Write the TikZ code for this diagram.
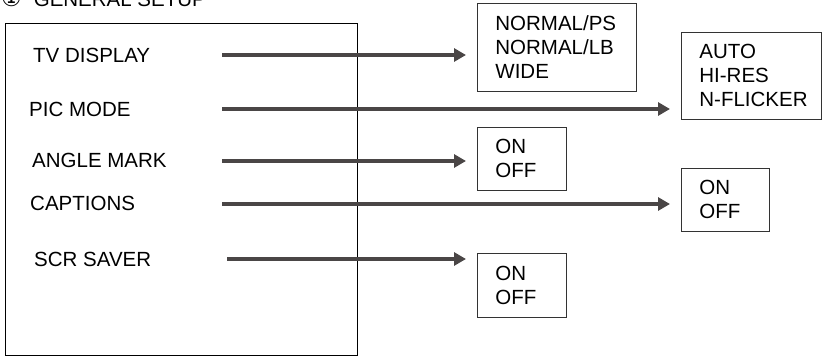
\documentclass[tikz,border=0pt]{standalone}
\usepackage{fontspec}
\setmainfont{Liberation Sans}
\newfontfamily\symfont{DejaVu Sans}
\usetikzlibrary{arrows.meta, positioning}
\definecolor{arrowgray}{HTML}{4A4646}
\definecolor{boxgray}{HTML}{333333}
\tikzstyle{arrow} = [line width=4pt, draw=arrowgray, -{Triangle[length=12pt,width=13pt]}, shorten >=11pt]
\tikzstyle{item} = [anchor=west, inner sep=0pt, font=\fontsize{20.5}{24}\selectfont]
\tikzstyle{optbox} = [rectangle, draw=boxgray, line width=0.8pt, anchor=north west, align=left, inner xsep=18pt, inner ysep=0pt, font=\fontsize{20.5}{24}\selectfont]

\begin{document}
\begin{tikzpicture}[x=1pt, y=-1pt]
\useasboundingbox (0,0) rectangle (822,356);

% Title
\node (title) [anchor=base west, inner sep=0pt, font=\fontsize{20.5}{24}\selectfont] at (1,6) {{\symfont\fontsize{23}{24}\selectfont ①}\hspace{12pt}GENERAL SETUP};

% Menu
\draw [line width=0.8pt] (5,23) rectangle (357,355.5);
\node (tvdisplay) [item] at (33,55.5) {TV DISPLAY};
\node (picmode) [item] at (29,109) {PIC MODE};
\node (anglemark) [item] at (32,160) {ANGLE MARK};
\node (captions) [item] at (30,203.5) {CAPTIONS};
\node (scrsaver) [item] at (34,259.5) {SCR SAVER};

% Options
\node (tvopts) [optbox, text width=123pt, minimum height=88pt] at (477,3) {NORMAL/PS\\NORMAL/LB\\WIDE};
\node (picopts) [optbox, text width=104pt, minimum height=87pt] at (681,32) {AUTO\\HI-RES\\\mbox{N-FLICKER}};
\node (angleopts) [optbox, text width=53pt, minimum height=63pt] at (477,127) {ON\\OFF};
\node (capopts) [optbox, text width=52pt, minimum height=63pt] at (681,168) {ON\\OFF};
\node (scropts) [optbox, text width=53pt, minimum height=64pt] at (477,253) {ON\\OFF};

% Connections
\coordinate (tvstart) at (222,55);
\coordinate (picstart) at (222,109);
\coordinate (anglestart) at (222,161);
\coordinate (capstart) at (222,204);
\coordinate (scrstart) at (227,259);
\draw [arrow] (tvstart) -- (tvstart -| tvopts.west);
\draw [arrow] (picstart) -- (picstart -| picopts.west);
\draw [arrow] (anglestart) -- (anglestart -| angleopts.west);
\draw [arrow] (capstart) -- (capstart -| capopts.west);
\draw [arrow] (scrstart) -- (scrstart -| scropts.west);

\end{tikzpicture}
\end{document}
